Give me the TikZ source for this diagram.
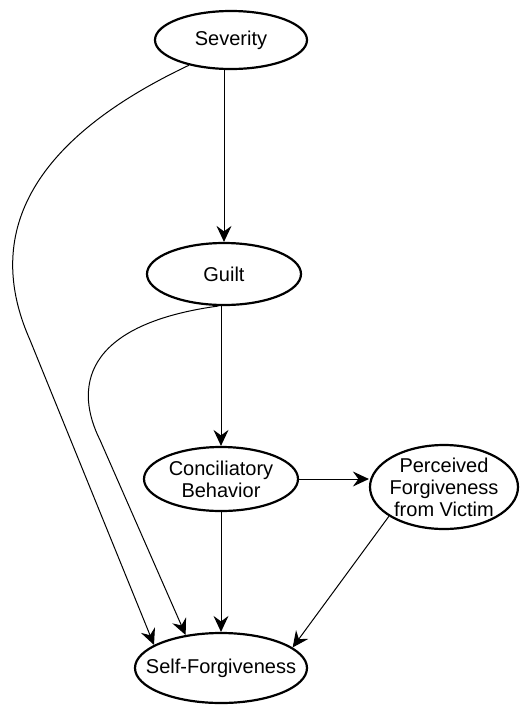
\documentclass[tikz,border=0pt]{standalone}
\usepackage{fontspec}
\setmainfont{Liberation Sans}
\usetikzlibrary{shapes.geometric,arrows.meta}
\begin{document}
\begin{tikzpicture}[x=1pt,y=-1pt,
  var/.style={ellipse, draw, line width=2.2pt, inner sep=0pt, align=center,
    font=\fontsize{20}{22}\selectfont},
  conn/.style={line width=1pt, -{Stealth[length=16pt,width=15pt,inset=5.5pt]}}]
\useasboundingbox (0,0) rectangle (520,705);
\node[var, minimum width=152pt, minimum height=58pt] (sev) at (231,40) {Severity};
\node[var, minimum width=154pt, minimum height=62pt] (guilt) at (224,274) {Guilt};
\node[var, minimum width=154pt, minimum height=64pt] (conc) at (221,479) {Conciliatory\\Behavior};
\node[var, minimum width=148pt, minimum height=84pt, inner xsep=-5pt, inner ysep=-3pt] (perc) at (444,487) {Perceived\\Forgiveness\\from Victim};
\node[var, minimum width=172pt, minimum height=70pt, inner xsep=-18pt] (self) at (221,668) {Self-Forgiveness};

\draw[conn] (guilt.north |- sev.south) -- (guilt.north);
\draw[conn] (conc.north |- guilt.south) -- (conc.north);
\draw[conn] (conc.south) -- (self.north);
\draw[conn] (conc.east) -- (conc.east -| perc.west);
\draw[conn] (perc.208) -- (self.16);
\draw[conn] (sev.211) .. controls (10,150) and (-10,250) .. (30,340) -- (self.161);
\draw[conn] (guilt.260) .. controls (80,325) and (75,390) .. (100,440) -- (self.137);
\end{tikzpicture}
\end{document}
